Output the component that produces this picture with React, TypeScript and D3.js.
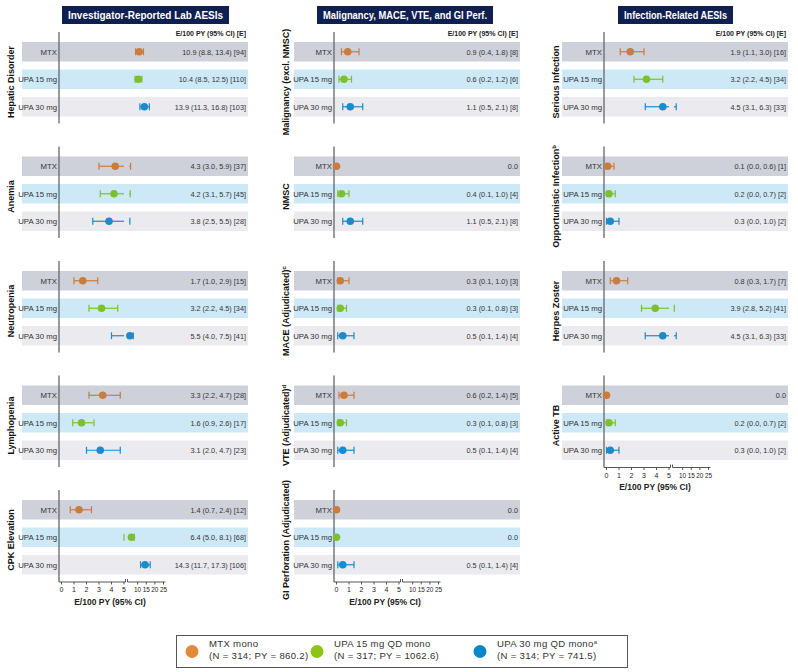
import React from 'react';
import * as d3 from 'd3';

const arms = ['MTX', 'UPA 15 mg', 'UPA 30 mg'];
const armColors = ['#c97c3c', '#7cc12d', '#1c8bc9'];
const legendColors = ['#e08a3a', '#8cc418', '#0a87c9'];
const rowFills = ['#cfd1da', '#cde9f8', '#ebebef'];

// Investigator-Reported Lab AESIs
const labCats = ['Hepatic Disorder', 'Anemia', 'Neutropenia', 'Lymphopenia', 'CPK Elevation'];
const labSups = ['', '', '', '', ''];
const labEst = [[10.9, 10.4, 13.9], [4.3, 4.2, 3.8], [1.7, 3.2, 5.5], [3.3, 1.6, 3.1], [1.4, 6.4, 14.3]];
const labLo = [[8.8, 8.5, 11.3], [3.0, 3.1, 2.5], [1.0, 2.2, 4.0], [2.2, 0.9, 2.0], [0.7, 5.0, 11.7]];
const labHi = [[13.4, 12.5, 16.8], [5.9, 5.7, 5.5], [2.9, 4.5, 7.5], [4.7, 2.6, 4.7], [2.4, 8.1, 17.3]];
const labN = [[94, 110, 103], [37, 45, 28], [15, 34, 41], [28, 17, 23], [12, 68, 106]];

// Malignancy, MACE, VTE, and GI Perf.
const malCats = ['Malignancy (excl. NMSC)', 'NMSC', 'MACE (Adjudicated)', 'VTE (Adjudicated)', 'GI Perforation (Adjudicated)'];
const malSups = ['', '', 'c', 'd', ''];
const malEst = [[0.9, 0.6, 1.1], [0.0, 0.4, 1.1], [0.3, 0.3, 0.5], [0.6, 0.3, 0.5], [0.0, 0.0, 0.5]];
const malLo = [[0.4, 0.2, 0.5], [0.0, 0.1, 0.5], [0.1, 0.1, 0.1], [0.2, 0.1, 0.1], [0.0, 0.0, 0.1]];
const malHi = [[1.8, 1.2, 2.1], [0.0, 1.0, 2.1], [1.0, 0.8, 1.4], [1.4, 0.8, 1.4], [0.0, 0.0, 1.4]];
const malN = [[8, 6, 8], [0, 4, 8], [3, 3, 4], [5, 3, 4], [0, 0, 4]];

// Infection-Related AESIs
const infCats = ['Serious Infection', 'Opportunistic Infection', 'Herpes Zoster', 'Active TB'];
const infSups = ['', 'b', '', ''];
const infEst = [[1.9, 3.2, 4.5], [0.1, 0.2, 0.3], [0.8, 3.9, 4.5], [0.0, 0.2, 0.3]];
const infLo = [[1.1, 2.2, 3.1], [0.0, 0.0, 0.0], [0.3, 2.8, 3.1], [0.0, 0.0, 0.0]];
const infHi = [[3.0, 4.5, 6.3], [0.6, 0.7, 1.0], [1.7, 5.2, 6.3], [0.0, 0.7, 1.0]];
const infN = [[16, 34, 33], [1, 2, 2], [7, 41, 33], [0, 2, 2]];

const lowTicks = [0, 1, 2, 3, 4, 5];
const highTicks = [10, 15, 20, 25];

const legendLines = [
  ['MTX mono', '(N = 314; PY = 860.2)'],
  ['UPA 15 mg QD mono', '(N = 317; PY = 1062.6)'],
  ['UPA 30 mg QD mono', '(N = 314; PY = 741.5)'],
];
const legendSups = ['', '', 'a'];

const panels = [
  { title: 'Investigator-Reported Lab AESIs', cats: labCats, sups: labSups, est: labEst, lo: labLo, hi: labHi, n: labN, ax: 59, left: 22, tx: 62, tw: 167 },
  { title: 'Malignancy, MACE, VTE, and GI Perf.', cats: malCats, sups: malSups, est: malEst, lo: malLo, hi: malHi, n: malN, ax: 334, left: 294, tx: 317, tw: 176 },
  { title: 'Infection-Related AESIs', cats: infCats, sups: infSups, est: infEst, lo: infLo, hi: infHi, n: infN, ax: 604, left: 562, tx: 618, tw: 115 },
];

const W = 798;
const H = 672;
const bandW = 226;
const rowStep = 27.5;
const rowH = 19.5;
const font = 'Liberation Sans, Arial, sans-serif';

const groupTop = d3.scaleLinear().domain([0, 4]).range([42, 500]);

const fmt = (e: number, l: number, h: number, n: number) =>
  n === 0 ? '0.0' : `${e.toFixed(1)} (${l.toFixed(1)}, ${h.toFixed(1)}) [${n}]`;

function Panel({ p }: { p: (typeof panels)[number] }) {
  const s1 = d3.scaleLinear().domain([0, 5]).range([p.ax + 2.5, p.ax + 65]);
  const s2 = d3.scaleLinear().domain([5, 25]).range([p.ax + 70, p.ax + 104.5]);
  const xv = (v: number) => (v <= 5 ? s1(v) : s2(v));
  const right = p.left + bandW;
  const last = p.cats.length - 1;
  const axisY = groupTop(last) + 82;

  return (
    <g>
      <rect x={p.tx} y={6} width={p.tw} height={18} fill="#0f1f4f" />
      <text
        x={p.tx + 6}
        y={18.8}
        textLength={p.tw - 12}
        lengthAdjust="spacingAndGlyphs"
        fill="#fff"
        fontWeight="bold"
        fontSize={10}
        fontFamily={font}
      >
        {p.title}
      </text>
      <text x={right - 2} y={36} textAnchor="end" fontWeight="bold" fontSize={7} fill="#222" fontFamily={font}>
        E/100 PY (95% CI) [E]
      </text>
      {p.cats.map((cat, gi) => {
        const g0 = groupTop(gi);
        const yBottom = gi === last ? axisY : g0 + 2 * rowStep + rowH + 7;
        return (
          <g key={cat}>
            {arms.map((arm, ai) => {
              const y = g0 + ai * rowStep;
              return <rect key={arm} x={p.left} y={y} width={bandW} height={rowH} fill={rowFills[ai]} />;
            })}
            <line x1={p.ax} x2={p.ax} y1={g0 - 10} y2={yBottom} stroke="#666" strokeWidth={1.3} />
            <text
              transform={`translate(${p.ax - 45.5},${g0 + 40}) rotate(-90)`}
              textAnchor="middle"
              fontWeight="bold"
              fontSize={9}
              fill="#111"
              fontFamily={font}
            >
              {cat}
              {p.sups[gi] && (
                <tspan baselineShift="super" fontSize={6}>
                  {p.sups[gi]}
                </tspan>
              )}
            </text>
            {arms.map((arm, ai) => {
              const yc = g0 + ai * rowStep + rowH / 2;
              const e = p.est[gi][ai];
              const l = p.lo[gi][ai];
              const h = p.hi[gi][ai];
              const n = p.n[gi][ai];
              const c = armColors[ai];
              return (
                <g key={arm}>
                  <text x={p.ax - 2} y={yc + 2.8} textAnchor="end" fontSize={7.8} fill="#333" fontFamily={font}>
                    {arm}
                  </text>
                  <text x={right - 2} y={yc + 3} textAnchor="end" fontSize={7.3} fill="#333" fontFamily={font}>
                    {fmt(e, l, h, n)}
                  </text>
                  {n > 0 && l < 5 && (
                    <line x1={s1(l)} x2={s1(Math.min(h, 5))} y1={yc} y2={yc} stroke={c} strokeWidth={1.2} />
                  )}
                  {n > 0 && h > 5 && (
                    <line x1={s2(Math.max(l, 5))} x2={s2(h)} y1={yc} y2={yc} stroke={c} strokeWidth={1.2} />
                  )}
                  {n > 0 &&
                    [l, h].map((v, k) => (
                      <line key={k} x1={xv(v)} x2={xv(v)} y1={yc - 3.5} y2={yc + 3.5} stroke={c} strokeWidth={1.2} />
                    ))}
                  <circle cx={xv(e)} cy={yc} r={3.8} fill={c} />
                </g>
              );
            })}
          </g>
        );
      })}
      <g fontFamily={font} fill="#222">
        <line x1={p.ax} x2={s1(5) + 1.5} y1={axisY} y2={axisY} stroke="#444" strokeWidth={0.9} />
        <line x1={s1(5) + 1.5} x2={s1(5) + 1.5} y1={axisY - 3} y2={axisY} stroke="#444" strokeWidth={0.9} />
        <line x1={s2(5) - 1.5} x2={s2(25) + 2} y1={axisY} y2={axisY} stroke="#444" strokeWidth={0.9} />
        <line x1={s2(5) - 1.5} x2={s2(5) - 1.5} y1={axisY - 3} y2={axisY} stroke="#444" strokeWidth={0.9} />
        {lowTicks.map((t) => (
          <g key={`l${t}`}>
            <line x1={s1(t)} x2={s1(t)} y1={axisY} y2={axisY + 2.5} stroke="#444" strokeWidth={0.9} />
            <text x={s1(t)} y={axisY + 10} textAnchor="middle" fontSize={7}>
              {t}
            </text>
          </g>
        ))}
        {highTicks.map((t) => (
          <g key={`h${t}`}>
            <line x1={s2(t)} x2={s2(t)} y1={axisY} y2={axisY + 2.5} stroke="#444" strokeWidth={0.9} />
            <text x={s2(t)} y={axisY + 10} textAnchor="middle" fontSize={6.4}>
              {t}
            </text>
          </g>
        ))}
        <text x={p.ax + 51} y={axisY + 22.5} textAnchor="middle" fontWeight="bold" fontSize={8.5}>
          E/100 PY (95% CI)
        </text>
      </g>
    </g>
  );
}

export default function App() {
  const legendCx = [192, 317, 480];
  return (
    <svg width={W} height={H} style={{ position: 'absolute', left: 0, top: 0, background: '#fff' }}>
      {panels.map((p) => (
        <Panel key={p.title} p={p} />
      ))}
      <rect x={176.5} y={635.5} width={451} height={32} fill="#fff" stroke="#555" strokeWidth={1} />
      {legendLines.map((lines, i) => {
        const cx = legendCx[i];
        return (
          <g key={i} fontFamily={font} fontSize={9.6} fill="#333" letterSpacing={0.3}>
            <circle cx={cx} cy={651.5} r={6.5} fill={legendColors[i]} />
            <text x={cx + 17} y={647}>
              {lines[0]}
              {legendSups[i] && (
                <tspan baselineShift="super" fontSize={6}>
                  {legendSups[i]}
                </tspan>
              )}
            </text>
            <text x={cx + 17} y={659}>
              {lines[1]}
            </text>
          </g>
        );
      })}
    </svg>
  );
}
